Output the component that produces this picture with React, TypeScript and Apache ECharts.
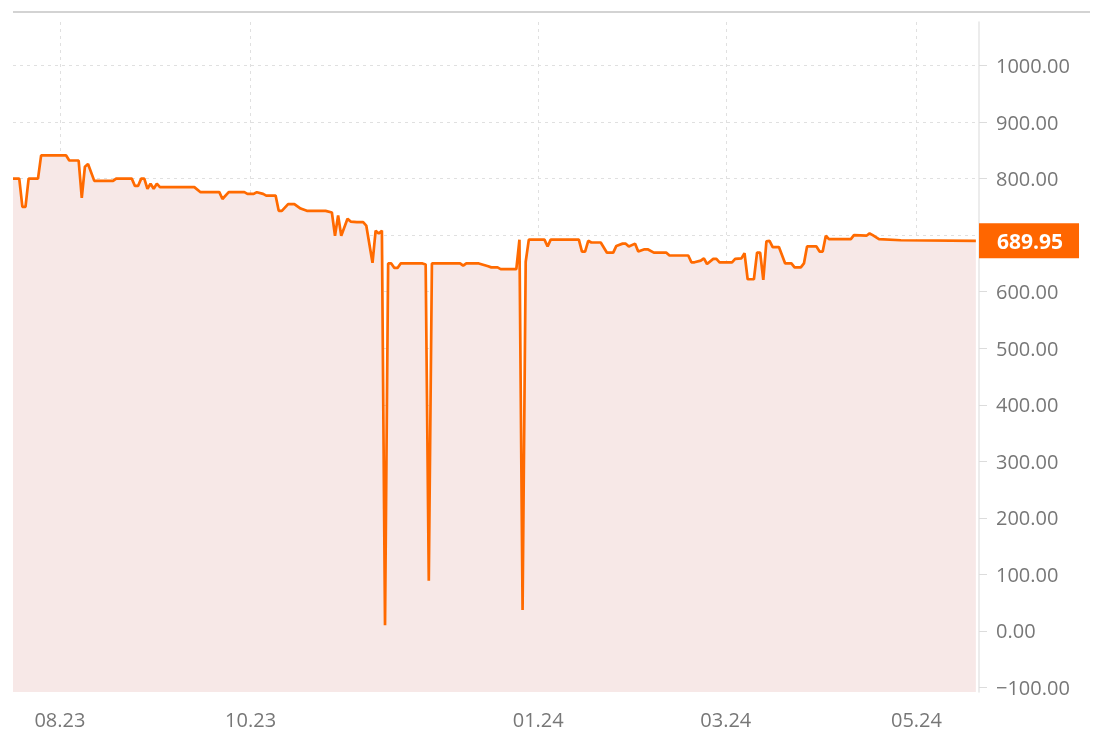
import React, { useEffect, useRef } from "react";
import * as echarts from "echarts";

// Price series (date, close)
const dates: string[] = [
  "2023-07-17", "2023-07-19", "2023-07-20", "2023-07-21", "2023-07-22", "2023-07-25", "2023-07-26",
  "2023-08-03", "2023-08-04", "2023-08-07", "2023-08-08", "2023-08-09", "2023-08-10", "2023-08-12",
  "2023-08-18", "2023-08-19", "2023-08-24", "2023-08-25", "2023-08-26", "2023-08-27", "2023-08-28",
  "2023-08-29", "2023-08-30", "2023-08-31", "2023-09-01", "2023-09-02", "2023-09-13", "2023-09-15",
  "2023-09-21", "2023-09-22", "2023-09-24", "2023-09-29", "2023-09-30", "2023-10-02", "2023-10-03",
  "2023-10-05", "2023-10-06", "2023-10-09", "2023-10-10", "2023-10-11", "2023-10-13", "2023-10-15",
  "2023-10-17", "2023-10-19", "2023-10-25", "2023-10-27", "2023-10-28", "2023-10-29", "2023-10-30",
  "2023-11-01", "2023-11-02", "2023-11-04", "2023-11-06", "2023-11-07", "2023-11-09", "2023-11-10",
  "2023-11-11", "2023-11-12", "2023-11-13", "2023-11-14", "2023-11-15", "2023-11-16", "2023-11-17",
  "2023-11-18", "2023-11-25", "2023-11-26", "2023-11-27", "2023-11-28", "2023-12-07", "2023-12-08",
  "2023-12-09", "2023-12-13", "2023-12-16", "2023-12-17", "2023-12-19", "2023-12-20", "2023-12-25",
  "2023-12-26", "2023-12-27", "2023-12-28", "2023-12-29", "2024-01-03", "2024-01-04", "2024-01-05",
  "2024-01-14", "2024-01-15", "2024-01-16", "2024-01-17", "2024-01-18", "2024-01-21", "2024-01-23",
  "2024-01-25", "2024-01-26", "2024-01-28", "2024-01-29", "2024-01-30", "2024-02-01", "2024-02-02",
  "2024-02-04", "2024-02-05", "2024-02-07", "2024-02-11", "2024-02-12", "2024-02-18", "2024-02-19",
  "2024-02-20", "2024-02-22", "2024-02-23", "2024-02-24", "2024-02-26", "2024-02-27", "2024-02-28",
  "2024-03-03", "2024-03-04", "2024-03-06", "2024-03-07", "2024-03-08", "2024-03-10", "2024-03-11",
  "2024-03-12", "2024-03-13", "2024-03-14", "2024-03-15", "2024-03-16", "2024-03-18", "2024-03-20",
  "2024-03-22", "2024-03-23", "2024-03-25", "2024-03-26", "2024-03-27", "2024-03-30", "2024-03-31",
  "2024-04-01", "2024-04-02", "2024-04-03", "2024-04-10", "2024-04-11", "2024-04-15", "2024-04-16",
  "2024-04-17", "2024-04-19", "2024-04-26", "2024-05-20",
];

const prices: number[] = [
  800, 800, 750, 750, 800, 800, 841,
  841, 832, 832, 766, 821, 826, 796,
  796, 800, 800, 787, 787, 800, 800,
  782, 791, 782, 791, 785, 785, 776,
  776, 764, 776, 776, 773, 773, 776,
  773, 770, 770, 743, 743, 755, 755,
  747, 743, 743, 740, 699, 735, 699,
  729, 724, 723, 723, 717, 651, 708,
  703, 708, 10, 650, 650, 642, 642,
  650, 650, 648, 89, 650, 650, 646,
  650, 650, 645, 643, 643, 640, 640,
  692, 37, 653, 692, 692, 680, 692,
  692, 671, 671, 690, 687, 687, 669,
  669, 681, 685, 685, 680, 685, 671,
  675, 675, 669, 669, 664, 664, 652,
  652, 655, 659, 649, 658, 658, 652,
  652, 658, 659, 668, 622, 622, 669,
  669, 621, 689, 690, 679, 679, 650,
  650, 643, 643, 650, 680, 680, 671,
  671, 699, 693, 693, 700, 699, 703,
  700, 693, 691, 689.95,
];

const xRange: string[] = ["2023-07-17", "2024-05-21"];
const xTickDates: string[] = ["2023-08-01", "2023-10-01", "2024-01-01", "2024-03-01", "2024-05-01"];
const yTickValues: number[] = [-100, 0, 100, 200, 300, 400, 500, 600, 700, 800, 900, 1000];
// 700.00 sits under the last-price tag, so it is not labelled
const yLabelValues: number[] = [-100, 0, 100, 200, 300, 400, 500, 600, 800, 900, 1000];
const yRange: number[] = [-108, 1077];

const toTs = (s: string): number => {
  const [y, m, d] = s.split("-").map(Number);
  return new Date(y, m - 1, d).getTime();
};

const FONT = "'Open Sans', 'Noto Sans', sans-serif";

export default function App() {
  const ref = useRef<HTMLDivElement>(null);

  useEffect(() => {
    if (!ref.current) return;
    const chart = echarts.init(ref.current, null, { renderer: "svg" });
    const seriesData = dates.map((d, i) => [toTs(d), prices[i]]);
    const last = prices[prices.length - 1];
    const xTicks = xTickDates.map(toTs);

    chart.setOption({
      animation: false,
      textStyle: { fontFamily: FONT },
      grid: { left: 13, right: 115, top: 22, bottom: 39, containLabel: false },
      graphic: [
        {
          type: "line",
          shape: { x1: 13, y1: 12, x2: 1090, y2: 12 },
          style: { stroke: "#c4c4c4", lineWidth: 1.5 },
          silent: true,
        },
      ],
      xAxis: {
        type: "value",
        min: toTs(xRange[0]),
        max: toTs(xRange[1]),
        axisLine: { show: false },
        axisTick: { show: false, customValues: xTicks },
        splitLine: {
          show: true,
          lineStyle: { color: "#e0e0e0", type: [3, 4], width: 1 },
        },
        axisLabel: {
          customValues: xTicks,
          margin: 17,
          fontSize: 20,
          color: "#777777",
          fontFamily: FONT,
          formatter: (val: number) => {
            const d = new Date(val);
            const mm = String(d.getMonth() + 1).padStart(2, "0");
            const yy = String(d.getFullYear() % 100).padStart(2, "0");
            return `${mm}.${yy}`;
          },
        },
      },
      yAxis: {
        type: "value",
        position: "right",
        min: yRange[0],
        max: yRange[1],
        axisLine: { show: true, lineStyle: { color: "#e6e6e6", width: 1.5 } },
        axisTick: {
          show: true,
          length: 8,
          lineStyle: { color: "#dcdcdc" },
          customValues: yTickValues,
        },
        splitLine: {
          show: true,
          lineStyle: { color: "#e0e0e0", type: [3, 4], width: 1 },
        },
        axisLabel: {
          customValues: yLabelValues,
          margin: 17,
          fontSize: 20,
          color: "#777777",
          fontFamily: FONT,
          formatter: (v: number) => {
            const s = Math.abs(v).toFixed(2);
            return v < 0 ? "\u2212" + s : s;
          },
        },
      },
      series: [
        {
          type: "line",
          data: seriesData,
          showSymbol: false,
          symbol: "none",
          lineStyle: { color: "#ff6a00", width: 2.7 },
          areaStyle: { color: "#f7e8e7", opacity: 1, origin: "start" },
          markLine: {
            silent: true,
            symbol: ["none", "none"],
            lineStyle: { color: "rgba(0,0,0,0)", width: 1 },
            label: {
              show: true,
              position: "end",
              distance: 0,
              formatter: () => last.toFixed(2),
              backgroundColor: "#ff6600",
              color: "#ffffff",
              fontSize: 21,
              fontWeight: "bold",
              fontFamily: FONT,
              lineHeight: 21,
              padding: [7, 16, 7, 18],
            },
            data: [{ yAxis: last }],
          },
        },
      ],
    });

    return () => chart.dispose();
  }, []);

  return (
    <div
      ref={ref}
      style={{ position: "fixed", left: 0, top: 0, width: 1094, height: 731 }}
    />
  );
}
